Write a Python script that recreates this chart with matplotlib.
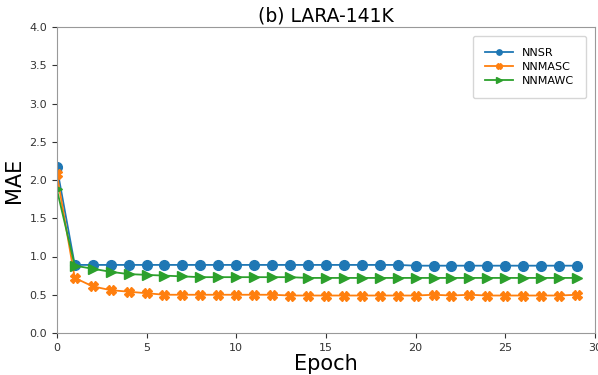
import numpy as np
import matplotlib as mpl
mpl.use('Agg')
import matplotlib.pyplot as plt

epochs = list(range(30))
nnsr = [2.17, 0.89, 0.89, 0.89, 0.89, 0.89, 0.89, 0.89, 0.89, 0.89,
        0.89, 0.89, 0.89, 0.89, 0.89, 0.89, 0.89, 0.89, 0.89, 0.89,
        0.88, 0.88, 0.88, 0.88, 0.88, 0.88, 0.88, 0.88, 0.88, 0.88]
nnmasc = [2.08, 0.72, 0.61, 0.56, 0.54, 0.52, 0.50, 0.50, 0.50, 0.50,
          0.50, 0.50, 0.50, 0.49, 0.49, 0.49, 0.49, 0.49, 0.49, 0.49,
          0.49, 0.50, 0.49, 0.50, 0.49, 0.49, 0.49, 0.49, 0.49, 0.50]
nnmawc = [1.88, 0.88, 0.84, 0.80, 0.77, 0.76, 0.75, 0.74, 0.73, 0.73,
          0.73, 0.73, 0.73, 0.73, 0.72, 0.72, 0.72, 0.72, 0.72, 0.72,
          0.72, 0.72, 0.72, 0.72, 0.72, 0.72, 0.72, 0.72, 0.72, 0.72]

fig = plt.figure(figsize=(5.98, 3.75), dpi=100)
ax = fig.add_axes([0.095, 0.112, 0.9, 0.816])

ax.plot(epochs, nnsr, marker='o', markersize=7, lw=1.3, color='#1f77b4', label='NNSR')
ax.plot(epochs, nnmasc, marker='X', markersize=7, lw=1.3, color='#ff7f0e', label='NNMASC')
ax.plot(epochs, nnmawc, marker='>', markersize=7, lw=1.3, color='#2ca02c', label='NNMAWC')

ax.set_xlim(0, 30)
ax.set_ylim(0, 4.0)
ax.set_yticks(np.arange(0, 4.01, 0.5))
ax.tick_params(labelsize=8, colors='#333333')
ax.set_xlabel('Epoch', fontsize=15, labelpad=1)
ax.set_ylabel('MAE', fontsize=15)
ax.set_title('(b) LARA-141K', fontsize=13.5, pad=4)
ax.legend(loc='upper right', fontsize=8, markerscale=0.55, borderpad=1.1,
          handlelength=2.5, labelspacing=0.35, borderaxespad=0.8)
for s in ax.spines.values():
    s.set_color('#999999')

plt.savefig('out.png', dpi=100)
